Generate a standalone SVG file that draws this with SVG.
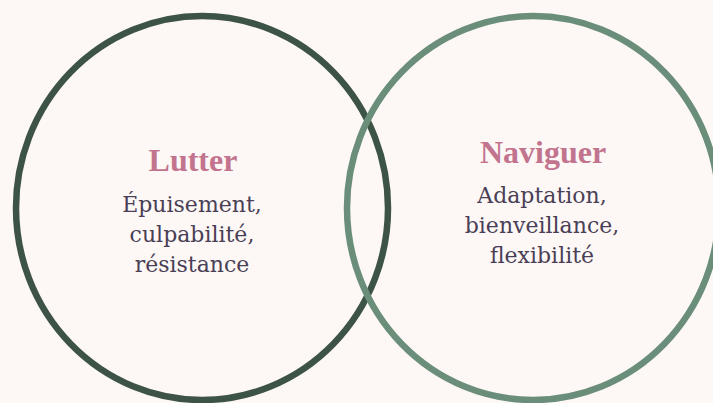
<svg xmlns="http://www.w3.org/2000/svg" width="713" height="403" viewBox="0 0 713 403">
  <style>
    .title { font-family: "Liberation Serif", "DejaVu Serif", serif; font-weight: bold; font-size: 32px; fill: #c2748e; text-anchor: middle; }
    .body { font-family: "DejaVu Serif", "Liberation Serif", serif; font-size: 22px; fill: #4a3f56; text-anchor: middle; }
    .ring { fill: none; stroke-width: 6.5; }
  </style>
  <rect x="0" y="0" width="713" height="403" fill="#fdf8f5"/>
  <g id="lutter">
    <ellipse class="ring" cx="202" cy="208" rx="186" ry="192" stroke="#3c5345"/>
    <text class="title" x="193" y="171">Lutter</text>
    <text class="body" x="192" y="212">Épuisement,</text>
    <text class="body" x="192" y="242">culpabilité,</text>
    <text class="body" x="192" y="272">résistance</text>
  </g>
  <g id="naviguer">
    <ellipse class="ring" cx="533" cy="208" rx="186" ry="192" stroke="#6a8e7a"/>
    <text class="title" x="543" y="163">Naviguer</text>
    <text class="body" x="542" y="203">Adaptation,</text>
    <text class="body" x="542" y="233">bienveillance,</text>
    <text class="body" x="542" y="263">flexibilité</text>
  </g>
  <g id="connectors"/>
</svg>
